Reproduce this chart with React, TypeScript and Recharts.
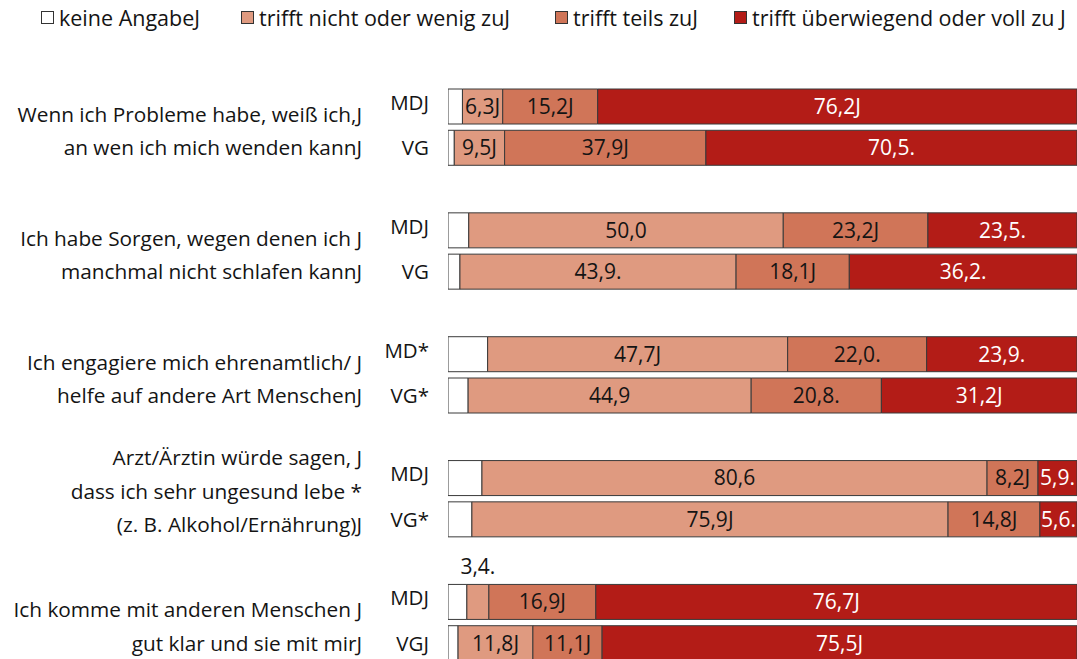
import React from 'react';
import { BarChart, Bar, XAxis, YAxis, Legend, LabelList } from 'recharts';

// rows of the chart: pairs MD / VG per question, with an empty spacer row between questions
const rowIds = ['m1', 'v1', 's1', 'm2', 'v2', 's2', 'm3', 'v3', 's3', 'm4', 'v4', 's4', 'm5', 'v5'];
const rowLabels = ['MDJ', 'VG', '', 'MDJ', 'VG', '', 'MD*', 'VG*', '', 'MDJ', 'VG*', '', 'MDJ', 'VGJ'];

const questionLines = [
  ['Wenn ich Probleme habe, weiß ich,J', 'an wen ich mich wenden kannJ'],
  ['Ich habe Sorgen, wegen denen ich J', 'manchmal nicht schlafen kannJ'],
  ['Ich engagiere mich ehrenamtlich/ J', 'helfe auf andere Art MenschenJ'],
  ['Arzt/Ärztin würde sagen, J', 'dass ich sehr ungesund lebe *', '(z. B. Alkohol/Ernährung)J'],
  ['Ich komme mit anderen Menschen J', 'gut klar und sie mit mirJ'],
];

const seriesNames = ['keine AngabeJ', 'trifft nicht oder wenig zuJ', 'trifft teils zuJ', 'trifft überwiegend oder voll zu J'];
const seriesColors = ['#FFFFFF', '#DF9A80', '#D07558', '#B31C17'];

// bar widths (share of the full bar), one entry per MD / VG bar
const keineAngabe = [2.3, 1.0, 3.3, 1.9, 6.3, 3.2, 5.4, 3.8, 3.0, 1.6];
const trifftNicht = [6.4, 8.0, 50.0, 43.9, 47.7, 45.0, 80.3, 75.7, 3.5, 11.9];
const trifftTeils = [15.1, 32.0, 23.0, 18.0, 22.1, 20.7, 8.1, 14.6, 17.0, 11.0];
const trifftVoll = [76.2, 59.0, 23.7, 36.2, 23.9, 31.1, 6.2, 5.9, 76.5, 75.5];

// printed labels
const nichtLabels = ['6,3J', '9,5J', '50,0', '43,9.', '47,7J', '44,9', '80,6', '75,9J', '3,4.', '11,8J'];
const teilsLabels = ['15,2J', '37,9J', '23,2J', '18,1J', '22,0.', '20,8.', '8,2J', '14,8J', '16,9J', '11,1J'];
const vollLabels = ['76,2J', '70,5.', '23,5.', '36,2.', '23,9.', '31,2J', '5,9.', '5,6.', '76,7J', '75,5J'];

const FONT = '"Open Sans", sans-serif';
const TEXT = '#141414';

const data = rowIds.map((id, i) => {
  if (i % 3 === 2) return { id };
  const b = Math.floor(i / 3) * 2 + (i % 3);
  return {
    id,
    keine: keineAngabe[b],
    nicht: trifftNicht[b],
    teils: trifftTeils[b],
    voll: trifftVoll[b],
    nichtLabel: nichtLabels[b],
    teilsLabel: teilsLabels[b],
    vollLabel: vollLabels[b],
  };
});

const RowTick = (props: any) => {
  const { y, payload } = props;
  const i = payload.index ?? props.index;
  const isMD = i % 3 === 0;
  const lines = isMD ? questionLines[i / 3] : null;
  const start = lines && lines.length === 3 ? -41 : -13;
  return (
    <g>
      <text x={429} y={isMD ? y - 4 : y} dy="0.35em" textAnchor="end" fontSize={20.5} fill={TEXT} fontFamily={FONT}>
        {rowLabels[i]}
      </text>
      {lines &&
        lines.map((l, k) => (
          <text key={k} x={362} y={y + 21 + start + k * 33.5} dy="0.35em" textAnchor="end" fontSize={20.8} fill={TEXT} fontFamily={FONT}>
            {l}
          </text>
        ))}
    </g>
  );
};

const makeLabel = (color: string) => (p: any) => {
  const { x, y, width, height, value } = p;
  if (value == null) return null;
  const above = width < 30;
  return (
    <text
      x={x + width / 2}
      y={above ? y - 18 : y + height / 2}
      dy="0.35em"
      textAnchor="middle"
      fontSize={21}
      fill={above ? TEXT : color}
      fontFamily={FONT}
    >
      {value}
    </text>
  );
};

const LegendContent = () => {
  const lefts = [41, 241, 555, 734];
  return (
    <div style={{ position: 'relative', height: 28, fontFamily: FONT, fontSize: 21.5, color: TEXT }}>
      {seriesNames.map((n, i) => (
        <div key={n} style={{ position: 'absolute', left: lefts[i], top: 0, display: 'flex', alignItems: 'center', whiteSpace: 'nowrap' }}>
          <span style={{ width: 11, height: 11, background: seriesColors[i], border: '1px solid #333', marginRight: 5, display: 'inline-block' }} />
          <span>{n}</span>
        </div>
      ))}
    </div>
  );
};

export default function App() {
  return (
    <div style={{ position: 'fixed', left: 0, top: 0, width: 1077, height: 659, overflow: 'hidden', background: '#fff' }}>
      <BarChart width={1077} height={700} data={data} layout="vertical" margin={{ top: 86, right: 0, bottom: 36, left: 0 }}>
        <XAxis type="number" domain={[0, 100]} hide allowDataOverflow />
        <YAxis type="category" dataKey="id" width={448} axisLine={false} tickLine={false} interval={0} tick={<RowTick />} />
        <Legend
          layout="horizontal"
          verticalAlign="middle"
          align="center"
          wrapperStyle={{ top: 3, left: 0, width: 1077, height: 28 }}
          content={<LegendContent />}
        />
        <Bar dataKey="keine" stackId="a" fill={seriesColors[0]} stroke="#3a3a3a" barSize={35} isAnimationActive={false} />
        <Bar dataKey="nicht" stackId="a" fill={seriesColors[1]} stroke="#3a3a3a" barSize={35} isAnimationActive={false}>
          <LabelList dataKey="nichtLabel" content={makeLabel(TEXT)} />
        </Bar>
        <Bar dataKey="teils" stackId="a" fill={seriesColors[2]} stroke="#3a3a3a" barSize={35} isAnimationActive={false}>
          <LabelList dataKey="teilsLabel" content={makeLabel(TEXT)} />
        </Bar>
        <Bar dataKey="voll" stackId="a" fill={seriesColors[3]} stroke="#3a3a3a" barSize={35} isAnimationActive={false}>
          <LabelList dataKey="vollLabel" content={makeLabel('#ffffff')} />
        </Bar>
      </BarChart>
    </div>
  );
}
